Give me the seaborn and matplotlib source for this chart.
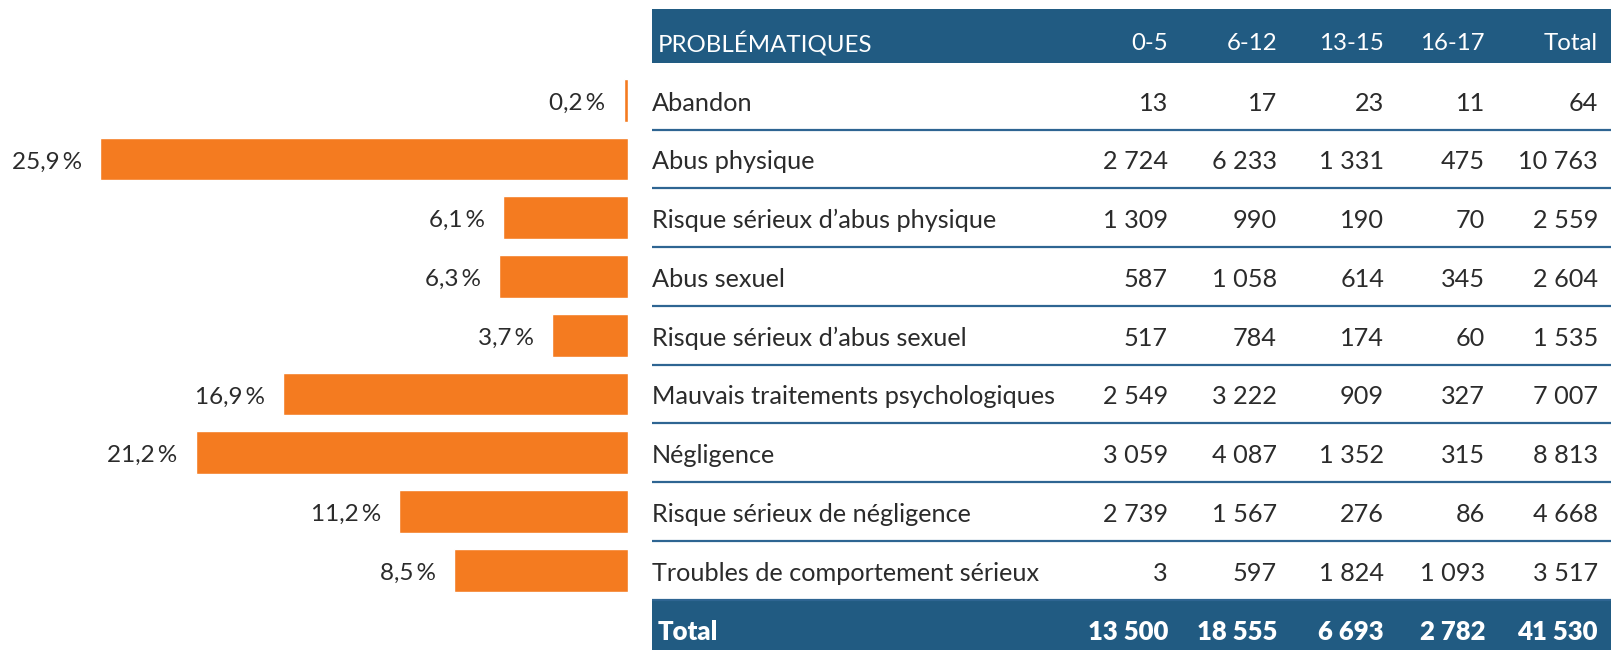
import numpy as np
import pandas as pd
import matplotlib
matplotlib.use("Agg")
import matplotlib.pyplot as plt
import seaborn as sns

sns.set_theme(style='white')
plt.rcParams['font.family'] = ['Lato', 'DejaVu Sans']

# data
categories = ["Abandon", "Abus physique", "Risque sérieux d’abus physique",
              "Abus sexuel", "Risque sérieux d’abus sexuel",
              "Mauvais traitements psychologiques", "Négligence",
              "Risque sérieux de négligence", "Troubles de comportement sérieux"]
pct = [0.2, 25.9, 6.1, 6.3, 3.7, 16.9, 21.2, 11.2, 8.5]
age_0_5 = [13, 2724, 1309, 587, 517, 2549, 3059, 2739, 3]
age_6_12 = [17, 6233, 990, 1058, 784, 3222, 4087, 1567, 597]
age_13_15 = [23, 1331, 190, 614, 174, 909, 1352, 276, 1824]
age_16_17 = [11, 475, 70, 345, 60, 327, 315, 86, 1093]
total = [64, 10763, 2559, 2604, 1535, 7007, 8813, 4668, 3517]
col_labels = ["0-5", "6-12", "13-15", "16-17", "Total"]
total_row = [13500, 18555, 6693, 2782, 41530]

ORANGE = '#F47B20'
BLUE = '#215B82'
LINE = '#2E6592'
TXT = '#2b2b2b'
FS = 18.2

def fmt(n):
    return f"{n:,}".replace(",", " ")

df = pd.DataFrame({'cat': categories, 'pct': pct})
n = len(categories)
ylim = (9.357, -1.707)
dy = 0.05  # text sits a bit low in its row

fig = plt.figure(figsize=(16.11, 6.5), dpi=100)

# left: bars growing to the left
ax = fig.add_axes([0, 0, 627.7 / 1611, 1])
sns.barplot(data=df, y='cat', x='pct', orient='h', color=ORANGE,
            width=0.727, saturation=1, ax=ax)
ax.set_xlim(30.8, 0)
ax.set_ylim(*ylim)
for i, v in enumerate(pct):
    ax.annotate(f"{v:.1f}".replace(".", ",") + "\u2009%", xy=(v, i + dy),
                xytext=(-13, 0), textcoords='offset points',
                ha='right', va='center', fontsize=17.5, color=TXT)
ax.axis('off')

# right: table
tx = fig.add_axes([651.7 / 1611, 0, 1 - 651.7 / 1611, 1])
width_px = 1611 - 651.7
tx.set_xlim(0, width_px)
tx.set_ylim(*ylim)
tx.axis('off')

col_right = [1168 - 651.7, 1277 - 651.7, 1384 - 651.7, 1485 - 651.7, 1598 - 651.7]

tx.axhspan(-1.549, -0.64, color=BLUE, lw=0)
tx.axhspan(8.52, 9.4, color=BLUE, lw=0)
for i in range(n):
    tx.axhline(i + 0.5, color=LINE, lw=1.6)

tx.text(6.5, -1 + 0.035, "PROBLÉMATIQUES", ha='left', va='center',
        fontsize=17.3, color='white')
for c, lab in enumerate(col_labels):
    tx.text(col_right[c], -1 + 0.035, lab, ha='right', va='center',
            fontsize=17.3, color='white')

cols = [age_0_5, age_6_12, age_13_15, age_16_17, total]
for i, cat in enumerate(categories):
    tx.text(0, i + dy, cat, ha='left', va='center', fontsize=FS, color=TXT)
    for c, vals in enumerate(cols):
        tx.text(col_right[c], i + dy, fmt(vals[i]), ha='right', va='center',
                fontsize=FS, color=TXT)

tx.text(6, 9 + dy, "Total", ha='left', va='center', fontsize=18.5,
        fontweight='heavy', color='white')
for c, v in enumerate(total_row):
    tx.text(col_right[c], 9 + dy, fmt(v), ha='right', va='center',
            fontsize=18.5, fontweight='heavy', color='white')

fig.savefig('out.png', dpi=100)
